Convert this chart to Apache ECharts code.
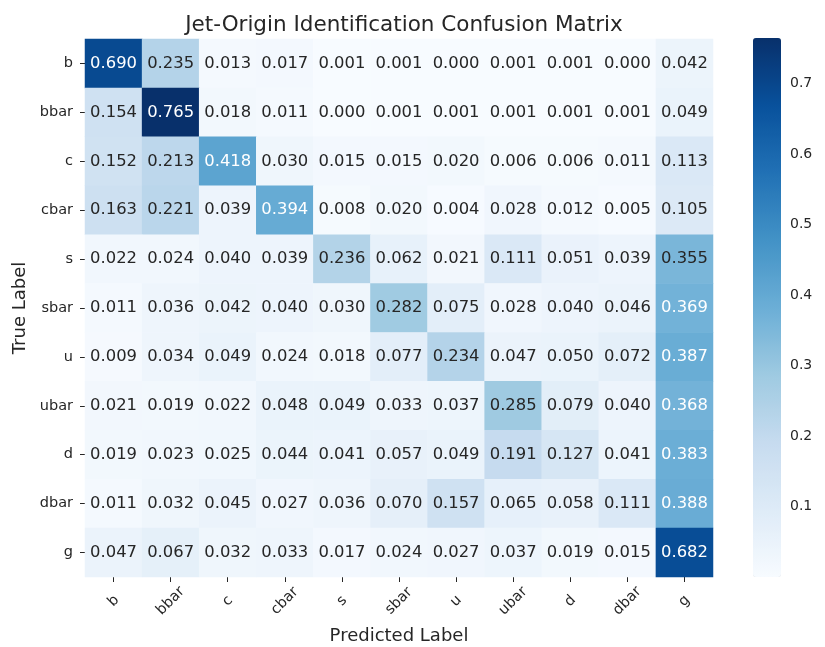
<!DOCTYPE html>
<html>
<head>
<meta charset="utf-8">
<style>
  html, body { margin: 0; padding: 0; background: #fff; }
  #chart { width: 825px; height: 647px; }
</style>
<script src="https://cdn.jsdelivr.net/npm/echarts@6/dist/echarts.min.js"></script>
</head>
<body>
<div id="chart"></div>
<script>
// class labels, same order on both axes
const labels = ["b", "bbar", "c", "cbar", "s", "sbar", "u", "ubar", "d", "dbar", "g"];

// one row per true label (normalized)
const rowB    = [0.690, 0.235, 0.013, 0.017, 0.001, 0.001, 0.000, 0.001, 0.001, 0.000, 0.042];
const rowBbar = [0.154, 0.765, 0.018, 0.011, 0.000, 0.001, 0.001, 0.001, 0.001, 0.001, 0.049];
const rowC    = [0.152, 0.213, 0.418, 0.030, 0.015, 0.015, 0.020, 0.006, 0.006, 0.011, 0.113];
const rowCbar = [0.163, 0.221, 0.039, 0.394, 0.008, 0.020, 0.004, 0.028, 0.012, 0.005, 0.105];
const rowS    = [0.022, 0.024, 0.040, 0.039, 0.236, 0.062, 0.021, 0.111, 0.051, 0.039, 0.355];
const rowSbar = [0.011, 0.036, 0.042, 0.040, 0.030, 0.282, 0.075, 0.028, 0.040, 0.046, 0.369];
const rowU    = [0.009, 0.034, 0.049, 0.024, 0.018, 0.077, 0.234, 0.047, 0.050, 0.072, 0.387];
const rowUbar = [0.021, 0.019, 0.022, 0.048, 0.049, 0.033, 0.037, 0.285, 0.079, 0.040, 0.368];
const rowD    = [0.019, 0.023, 0.025, 0.044, 0.041, 0.057, 0.049, 0.191, 0.127, 0.041, 0.383];
const rowDbar = [0.011, 0.032, 0.045, 0.027, 0.036, 0.070, 0.157, 0.065, 0.058, 0.111, 0.388];
const rowG    = [0.047, 0.067, 0.032, 0.033, 0.017, 0.024, 0.027, 0.037, 0.019, 0.015, 0.682];

const rows = [rowB, rowBbar, rowC, rowCbar, rowS, rowSbar, rowU, rowUbar, rowD, rowDbar, rowG];

// colorbar range and its labelled ticks
const cMin = 0;
const cMax = 0.765;
const cTickMin = 0.1;
const cTickMax = 0.7;

// matplotlib "Blues"
const blues = ["#f7fbff", "#deebf7", "#c6dbef", "#9ecae1", "#6baed6", "#4292c6", "#2171b5", "#08519c", "#08306b"];

const font = "DejaVu Sans";
const textDark = "#262626";

const cells = [];
rows.forEach((row, y) => {
  row.forEach((v, x) => {
    cells.push({
      value: [x, y, v],
      label: { color: v > 0.36 ? "#ffffff" : textDark }
    });
  });
});

// colorbar geometry: the tick axis only spans 0.1..0.7
const barTop = 38, barH = 539;
const pxPer = barH / (cMax - cMin);
const tickTop = barTop + (cMax - cTickMax) * pxPer;
const tickH = (cTickMax - cTickMin) * pxPer;

const chart = echarts.init(document.getElementById("chart"), null, { renderer: "canvas" });

chart.setOption({
  animation: false,
  backgroundColor: "#fff",
  title: {
    text: "Jet-Origin Identification Confusion Matrix",
    left: 399,
    textAlign: "center",
    top: 9,
    textStyle: { fontFamily: font, fontSize: 21.5, fontWeight: "normal", color: textDark }
  },
  grid: [
    { left: 85, top: 39, width: 628, height: 538, outerBoundsMode: "none" },
    { left: 753, top: tickTop, width: 28, height: tickH, outerBoundsMode: "none" }
  ],
  xAxis: [
    {
      type: "category",
      data: labels,
      gridIndex: 0,
      name: "Predicted Label",
      nameLocation: "middle",
      nameGap: 50,
      nameTextStyle: { fontFamily: font, fontSize: 18, color: textDark },
      axisLine: { show: false },
      axisTick: { show: true, alignWithLabel: true, length: 5, lineStyle: { color: textDark } },
      axisLabel: {
        rotate: 45,
        align: "center",
        verticalAlign: "middle",
        margin: 24,
        fontFamily: font,
        fontSize: 14.5,
        color: textDark
      },
      splitLine: { show: false }
    },
    {
      type: "value",
      gridIndex: 1,
      show: false
    }
  ],
  yAxis: [
    {
      type: "category",
      data: labels,
      gridIndex: 0,
      inverse: true,
      name: "True Label",
      nameLocation: "middle",
      nameGap: 52,
      nameTextStyle: { fontFamily: font, fontSize: 18, color: textDark },
      axisLine: { show: false },
      axisTick: { show: true, alignWithLabel: true, length: 5, lineStyle: { color: textDark } },
      axisLabel: { margin: 12, fontFamily: font, fontSize: 14.5, color: textDark },
      splitLine: { show: false }
    },
    {
      type: "value",
      gridIndex: 1,
      position: "right",
      min: cTickMin,
      max: cTickMax,
      interval: 0.1,
      axisLine: { show: false },
      axisTick: { show: true, length: 5, lineStyle: { color: textDark } },
      axisLabel: {
        margin: 9,
        fontFamily: font,
        fontSize: 14,
        color: textDark,
        formatter: v => v.toFixed(1)
      },
      splitLine: { show: false }
    }
  ],
  visualMap: {
    type: "continuous",
    min: cMin,
    max: cMax,
    seriesIndex: 0,
    dimension: 2,
    calculable: false,
    left: 753,
    top: barTop,
    padding: 0,
    itemWidth: 28,
    itemHeight: barH,
    text: ["", ""],
    textGap: 0,
    inRange: { color: blues }
  },
  series: [
    {
      type: "heatmap",
      xAxisIndex: 0,
      yAxisIndex: 0,
      data: cells,
      label: {
        show: true,
        fontFamily: font,
        fontSize: 16.4,
        formatter: p => p.value[2].toFixed(3)
      },
      itemStyle: { borderWidth: 0 },
      emphasis: { disabled: true }
    }
  ]
});
</script>
</body>
</html>
